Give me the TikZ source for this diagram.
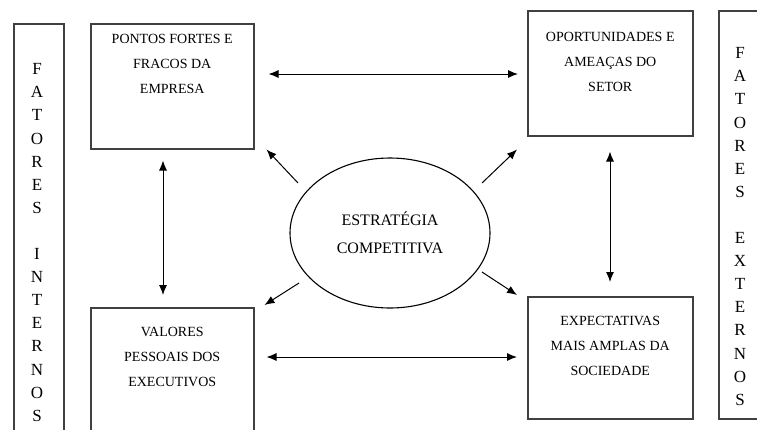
\documentclass[tikz,border=0pt]{standalone}
\usepackage{fontspec}
\setmainfont{Liberation Serif}
\usetikzlibrary{arrows.meta,shapes.geometric}
\begin{document}
\begin{tikzpicture}[x=1pt,y=-1pt,
  box/.style={draw=black!75,line width=1.5pt,rectangle,inner sep=0pt},
  boxtxt/.style={align=center,font=\fontsize{14}{25}\selectfont,inner sep=0pt},
  bartxt/.style={align=center,font=\fontsize{17}{23.1}\selectfont,inner sep=0pt},
  conn/.style={line width=1pt,-{Latex[length=10pt,width=8pt]}},
  dconn/.style={line width=1pt,{Latex[length=10pt,width=8pt]}-{Latex[length=10pt,width=8pt]}}]
\useasboundingbox (0,0) rectangle (757,429);
\begin{scope}
\clip (0,0) rectangle (757,429);
% bars
\node[box,minimum width=50pt,minimum height=420pt,anchor=north west] (lbar) at (13,23) {};
\node[box,minimum width=52pt,minimum height=408pt,anchor=north west] (rbar) at (718,10) {};
% boxes
\node[box,minimum width=163pt,minimum height=125pt,anchor=north west] (tl) at (90,23) {};
\node[box,minimum width=165pt,minimum height=125pt,anchor=north west] (tr) at (527,10) {};
\node[box,minimum width=163pt,minimum height=133pt,anchor=north west] (bl) at (90,307) {};
\node[box,minimum width=165pt,minimum height=122pt,anchor=north west] (br) at (527,296) {};
\end{scope}
% texts
\node[boxtxt] (tltxt) at ([yshift=-41pt]tl.north) {PONTOS FORTES E\\FRACOS DA\\EMPRESA};
\node[boxtxt] (trtxt) at ([yshift=-52pt]tr.north) {OPORTUNIDADES E\\AMEAÇAS DO\\SETOR};
\node[boxtxt] (bltxt) at ([yshift=-50pt]bl.north) {VALORES\\PESSOAIS DOS\\EXECUTIVOS};
\node[boxtxt] (brtxt) at ([yshift=-50pt]br.north) {EXPECTATIVAS\\MAIS AMPLAS DA\\SOCIEDADE};
\node[bartxt] (lbartxt) at (37,242.5) {F\\A\\T\\O\\R\\E\\S\\[23.1pt]I\\N\\T\\E\\R\\N\\O\\S};
\node[bartxt] (rbartxt) at (740,226.5) {F\\A\\T\\O\\R\\E\\S\\[23.1pt]E\\X\\T\\E\\R\\N\\O\\S};
% ellipse
\node[draw,line width=1.1pt,ellipse,minimum width=200pt,minimum height=150pt,inner sep=0pt,align=center,font=\fontsize{16}{28}\selectfont] (e) at (390,233) {ESTRATÉGIA\\COMPETITIVA};
% connectors
\draw[dconn] ([shift={(14,51)}]tl.north east) -- ([shift={(-9,64)}]tr.north west);
\draw[dconn] ([shift={(12,50)}]bl.north east) -- ([shift={(-10,61)}]br.north west);
\draw[dconn] ([yshift=-11pt]tl.south -| 163,0) -- ([yshift=12pt]bl.north -| 163,0);
\draw[dconn] ([yshift=-15pt]tr.south -| 610,0) -- ([yshift=14pt]br.north -| 610,0);
\draw[conn] ([shift={(-92,-50)}]e.center) -- ([shift={(12,0)}]tl.south east);
\draw[conn] ([shift={(92,-50)}]e.center) -- ([shift={(-10,13)}]tr.south west);
\draw[conn] ([shift={(-91,50)}]e.center) -- ([shift={(10,-2)}]bl.north east);
\draw[conn] ([shift={(92,39)}]e.center) -- ([shift={(-10,-1)}]br.north west);
\end{tikzpicture}
\end{document}
